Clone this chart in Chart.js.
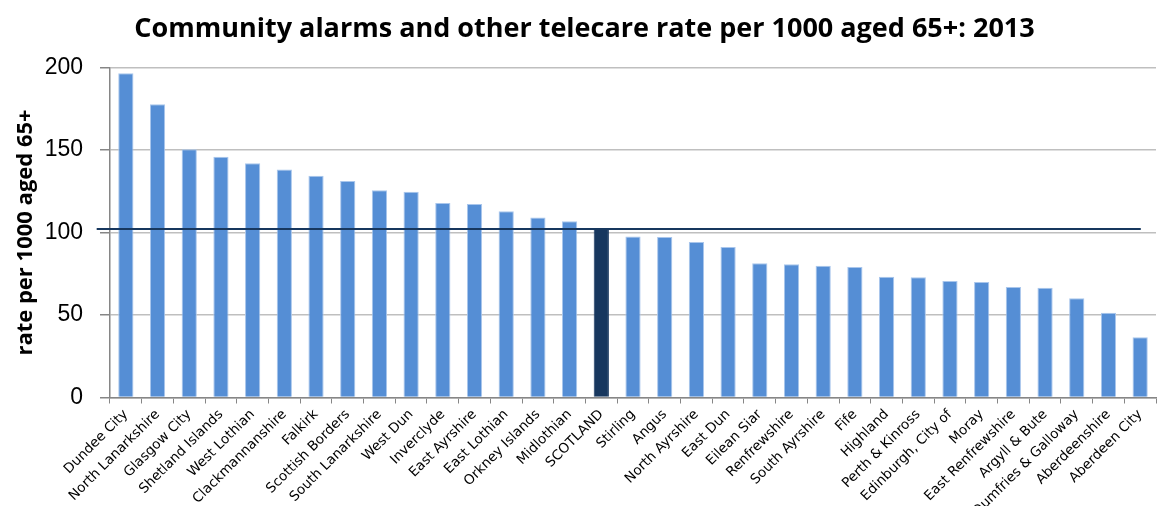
<!DOCTYPE html>
<html>
<head>
<meta charset="utf-8">
<script src="https://cdn.jsdelivr.net/npm/chart.js@4.4.1/dist/chart.umd.min.js"></script>
<style>
  html, body { margin: 0; padding: 0; background: #ffffff; }
  #wrap { width: 1158px; height: 506px; }
</style>
</head>
<body>
<div id="wrap"><canvas id="c" width="1158" height="506"></canvas></div>
<script>
// ---- data ----
const categories = [
  'Dundee City', 'North Lanarkshire', 'Glasgow City', 'Shetland Islands', 'West Lothian',
  'Clackmannanshire', 'Falkirk', 'Scottish Borders', 'South Lanarkshire', 'West Dun',
  'Inverclyde', 'East Ayrshire', 'East Lothian', 'Orkney Islands', 'Midlothian',
  'SCOTLAND', 'Stirling', 'Angus', 'North Ayrshire', 'East Dun',
  'Eilean Siar', 'Renfrewshire', 'South Ayrshire', 'Fife', 'Highland',
  'Perth & Kinross', 'Edinburgh, City of', 'Moray', 'East Renfrewshire', 'Argyll & Bute',
  'Dumfries & Galloway', 'Aberdeenshire', 'Aberdeen City'
];
const rates = [
  196.5, 177.7, 150.4, 145.8, 141.9,
  138.1, 134.4, 131.2, 125.6, 124.7,
  117.9, 117.3, 112.8, 109.0, 106.8,
  102.1, 97.5, 97.3, 94.2, 91.2,
  81.4, 80.7, 79.9, 79.1, 73.2,
  72.8, 70.6, 70.0, 67.0, 66.5,
  60.1, 51.4, 36.5
];
// Scotland average reference line (start / end in category units)
const scotlandLineX = [-0.42, 32.52];
const scotlandLineY = [102.1, 102.1];
const yTicks = [0, 50, 100, 150, 200];
const highlightCategory = 'SCOTLAND';

// ---- styles ----
const barBlue = '#558ED5';
const navy = '#17375E';
const barColors = categories.map(c => c === highlightCategory ? navy : barBlue);
const barBorders = categories.map(c => c === highlightCategory ? navy : '#A9C6EC');

const ctx = document.getElementById('c').getContext('2d');
new Chart(ctx, {
  type: 'bar',
  data: {
    labels: categories,
    datasets: [
      {
        type: 'bar',
        data: rates,
        backgroundColor: barColors,
        borderColor: barBorders,
        borderWidth: 1,
        barPercentage: 0.48,
        categoryPercentage: 1.0,
        grouped: false,
        order: 2,
        xAxisID: 'x',
        yAxisID: 'y'
      },
      {
        type: 'line',
        data: scotlandLineX.map((x, i) => ({ x: x, y: scotlandLineY[i] })),
        borderColor: navy,
        borderWidth: 2,
        pointRadius: 0,
        fill: false,
        clip: false,
        order: 1,
        xAxisID: 'x2',
        yAxisID: 'y'
      }
    ]
  },
  options: {
    responsive: false,
    animation: false,
    devicePixelRatio: 1,
    layout: { padding: { left: 13, right: 2, top: 0, bottom: 0 } },
    plugins: {
      legend: { display: false },
      tooltip: { enabled: false },
      title: {
        display: true,
        text: 'Community alarms and other telecare rate per 1000 aged 65+: 2013',
        color: '#000000',
        font: { family: 'Open Sans', size: 27, weight: 'bold', lineHeight: 1.2 },
        padding: { top: 13, bottom: 22 }
      }
    },
    scales: {
      x: {
        type: 'category',
        offset: true,
        grid: {
          offset: true,
          drawOnChartArea: false,
          drawTicks: true,
          tickLength: 6,
          color: '#868686',
          tickColor: '#868686'
        },
        border: { color: '#868686', width: 1.5 },
        ticks: {
          autoSkip: false,
          minRotation: 45,
          maxRotation: 45,
          padding: 3,
          color: '#000000',
          font: { family: 'DejaVu Sans', size: 13.6 }
        },
        afterFit: (s) => { s.height = 108.5; }
      },
      x2: {
        type: 'linear',
        display: false,
        min: 0,
        max: 33,
        offset: false
      },
      y: {
        min: 0,
        max: 200,
        afterBuildTicks: (s) => { s.ticks = yTicks.map(v => ({ value: v })); },
        grid: {
          color: '#BFBFBF',
          lineWidth: 1.5,
          drawTicks: true,
          tickLength: 10,
          tickColor: '#868686'
        },
        border: { color: '#868686', width: 1.5 },
        ticks: {
          padding: 17,
          color: '#000000',
          font: { family: 'Liberation Sans', size: 23 }
        },
        title: {
          display: true,
          text: 'rate per 1000 aged 65+',
          color: '#000000',
          font: { family: 'Open Sans', size: 22, weight: 'bold', lineHeight: 1.2 },
          padding: { top: 0, bottom: 0 }
        },
        afterFit: (s) => { s.width = 97; }
      }
    }
  }
});
</script>
</body>
</html>
